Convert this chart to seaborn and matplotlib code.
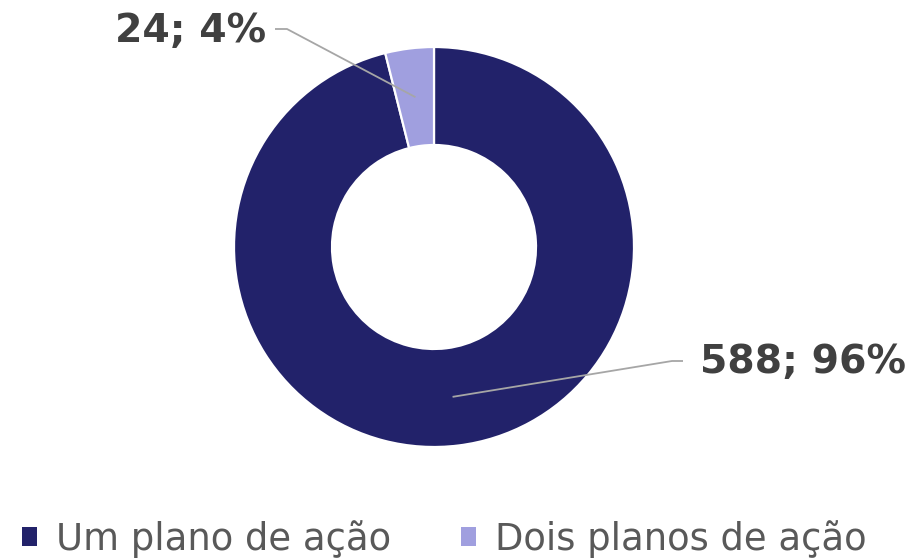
import numpy as np
import matplotlib
matplotlib.use("Agg")
import matplotlib.pyplot as plt
import seaborn as sns
from matplotlib.patches import Patch

categories = ["Um plano de ação", "Dois planos de ação"]
counts = [588, 24]
percents = [96, 4]
colors = ["#22226A", "#A09FDF"]

sns.set_theme(style="white")
plt.rcParams['font.family'] = ['DejaVu Sans']

W, H = 910, 560
fig = plt.figure(figsize=(W / 100, H / 100), dpi=100)
ax = fig.add_axes([0, 0, 1, 1])

cx, cy = 434, H - 247
R, ring = 200, 98
wedges, _ = ax.pie(counts, colors=colors, startangle=90, counterclock=False,
                   center=(cx, cy), radius=R,
                   wedgeprops=dict(width=ring, edgecolor="white", linewidth=1.6))
ax.set_xlim(0, W)
ax.set_ylim(0, H)
ax.set_aspect("equal")
ax.axis("off")

# label layout (pixel positions in figure, y from top)
layout = [
    dict(elbow=(672, 361), end=(683, 361), text=(700, 362), ha="left"),
    dict(elbow=(287, 29), end=(275, 29), text=(266, 31), ha="right"),
]
rmid = R - ring / 2
for w, n, p, lay in zip(wedges, counts, percents, layout):
    ang = np.deg2rad((w.theta1 + w.theta2) / 2)
    ax_ = cx + rmid * np.cos(ang)
    ay_ = cy + rmid * np.sin(ang)
    ex, ey = lay["elbow"]
    tx, ty = lay["end"]
    ax.plot([ax_, ex, tx], [ay_, H - ey, H - ty], color="#A6A6A6", lw=1.3,
            solid_capstyle="butt")
    ax.text(lay["text"][0], H - lay["text"][1], f"{n}; {p}%", ha=lay["ha"],
            va="center", fontsize=28.4, fontweight="bold", color="#404040")

handles = [Patch(facecolor=c, edgecolor="none") for c in colors]
leg = fig.legend(handles, categories, loc="center", bbox_to_anchor=(0.488, 1 - 539 / H),
                 ncol=2, frameon=False, fontsize=26.6, handlelength=0.42, handleheight=0.42,
                 handletextpad=0.5, columnspacing=1.9, labelcolor="#595959")

fig.savefig("out.png", dpi=100)
